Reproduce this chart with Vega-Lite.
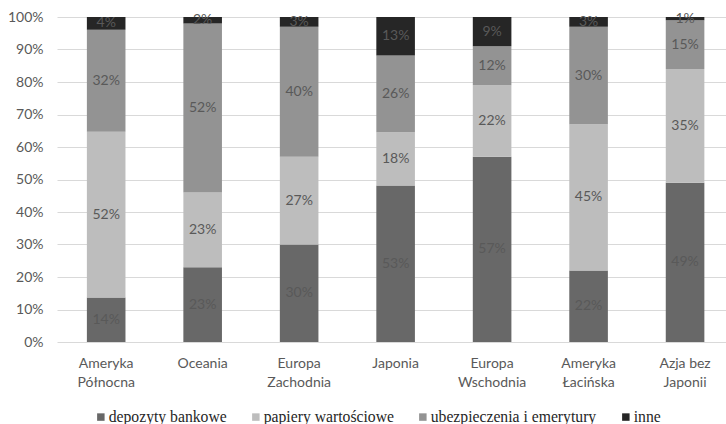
{
  "$schema": "https://vega.github.io/schema/vega-lite/v6.json",
  "autosize": {"type": "none"},
  "width": 669,
  "height": 325,
  "padding": {"left": 57, "top": 17, "right": 0, "bottom": 82},
  "background": "white",
  "config": {
    "view": {"stroke": null},
    "font": "Lato",
    "axis": {"labelFont": "Lato", "labelFontSize": 14, "labelColor": "#595959", "title": null},
    "axisY": {
      "format": ".0%",
      "values": [0, 0.1, 0.2, 0.3, 0.4, 0.5, 0.6, 0.7, 0.8, 0.9, 1],
      "labelOverlap": false,
      "domain": false,
      "ticks": false,
      "labelPadding": 14,
      "gridColor": "#d9d9d9",
      "gridWidth": 1
    }
  },
  "data": {
    "values": [
      {"region": "Ameryka Północna", "category": "depozyty bankowe", "order": 1, "value": 0.14},
      {"region": "Ameryka Północna", "category": "papiery wartościowe", "order": 2, "value": 0.52},
      {"region": "Ameryka Północna", "category": "ubezpieczenia i emerytury", "order": 3, "value": 0.32},
      {"region": "Ameryka Północna", "category": "inne", "order": 4, "value": 0.04},
      {"region": "Oceania", "category": "depozyty bankowe", "order": 1, "value": 0.23},
      {"region": "Oceania", "category": "papiery wartościowe", "order": 2, "value": 0.23},
      {"region": "Oceania", "category": "ubezpieczenia i emerytury", "order": 3, "value": 0.52},
      {"region": "Oceania", "category": "inne", "order": 4, "value": 0.02},
      {"region": "Europa Zachodnia", "category": "depozyty bankowe", "order": 1, "value": 0.30},
      {"region": "Europa Zachodnia", "category": "papiery wartościowe", "order": 2, "value": 0.27},
      {"region": "Europa Zachodnia", "category": "ubezpieczenia i emerytury", "order": 3, "value": 0.40},
      {"region": "Europa Zachodnia", "category": "inne", "order": 4, "value": 0.03},
      {"region": "Japonia", "category": "depozyty bankowe", "order": 1, "value": 0.53},
      {"region": "Japonia", "category": "papiery wartościowe", "order": 2, "value": 0.18},
      {"region": "Japonia", "category": "ubezpieczenia i emerytury", "order": 3, "value": 0.26},
      {"region": "Japonia", "category": "inne", "order": 4, "value": 0.13},
      {"region": "Europa Wschodnia", "category": "depozyty bankowe", "order": 1, "value": 0.57},
      {"region": "Europa Wschodnia", "category": "papiery wartościowe", "order": 2, "value": 0.22},
      {"region": "Europa Wschodnia", "category": "ubezpieczenia i emerytury", "order": 3, "value": 0.12},
      {"region": "Europa Wschodnia", "category": "inne", "order": 4, "value": 0.09},
      {"region": "Ameryka Łacińska", "category": "depozyty bankowe", "order": 1, "value": 0.22},
      {"region": "Ameryka Łacińska", "category": "papiery wartościowe", "order": 2, "value": 0.45},
      {"region": "Ameryka Łacińska", "category": "ubezpieczenia i emerytury", "order": 3, "value": 0.30},
      {"region": "Ameryka Łacińska", "category": "inne", "order": 4, "value": 0.03},
      {"region": "Azja bez Japonii", "category": "depozyty bankowe", "order": 1, "value": 0.49},
      {"region": "Azja bez Japonii", "category": "papiery wartościowe", "order": 2, "value": 0.35},
      {"region": "Azja bez Japonii", "category": "ubezpieczenia i emerytury", "order": 3, "value": 0.15},
      {"region": "Azja bez Japonii", "category": "inne", "order": 4, "value": 0.01}
    ]
  },
  "transform": [
    {"stack": "value", "groupby": ["region"], "sort": [{"field": "order", "order": "ascending"}], "offset": "normalize", "as": ["v0", "v1"]}
  ],
  "encoding": {
    "x": {
      "field": "region",
      "type": "nominal",
      "sort": ["Ameryka Północna", "Oceania", "Europa Zachodnia", "Japonia", "Europa Wschodnia", "Ameryka Łacińska", "Azja bez Japonii"],
      "scale": {"paddingInner": 0.6, "paddingOuter": 0.267, "align": 0.58},
      "axis": {
        "labelAngle": 0,
        "domain": false,
        "ticks": false,
        "labelPadding": 14,
        "labelLineHeight": 19,
        "labelExpr": "datum.label == 'Azja bez Japonii' ? ['Azja bez', 'Japonii'] : split(datum.label, ' ')"
      }
    }
  },
  "layer": [
    {
      "mark": {"type": "bar"},
      "encoding": {
        "y": {
          "field": "v0",
          "type": "quantitative",
          "scale": {"domain": [0, 1], "nice": false}
        },
        "y2": {"field": "v1"},
        "color": {
          "field": "category",
          "type": "nominal",
          "scale": {
            "domain": ["depozyty bankowe", "papiery wartościowe", "ubezpieczenia i emerytury", "inne"],
            "range": ["#686868", "#bdbdbd", "#939393", "#262626"]
          },
          "legend": {
            "title": null,
            "orient": "none",
            "direction": "horizontal",
            "legendX": 36,
            "legendY": 392,
            "padding": 0,
            "symbolType": "square",
            "symbolSize": 56,
            "symbolStrokeWidth": 0,
            "symbolOpacity": 1,
            "labelFont": "Liberation Serif",
            "labelFontSize": 15.7,
            "labelColor": "#262626",
            "labelOffset": 0,
            "columnPadding": 21,
            "labelLimit": 300
          }
        }
      }
    },
    {
      "transform": [
        {"fold": ["v0", "v1"], "as": ["edge", "pos"]},
        {"aggregate": [{"op": "mean", "field": "pos", "as": "mid"}, {"op": "max", "field": "value", "as": "share"}], "groupby": ["region", "category"]}
      ],
      "mark": {"type": "text", "font": "Lato", "fontSize": 14, "color": "#595959", "baseline": "middle", "align": "center"},
      "encoding": {
        "y": {"field": "mid", "type": "quantitative"},
        "text": {"field": "share", "type": "quantitative", "format": ".0%"}
      }
    }
  ]
}
